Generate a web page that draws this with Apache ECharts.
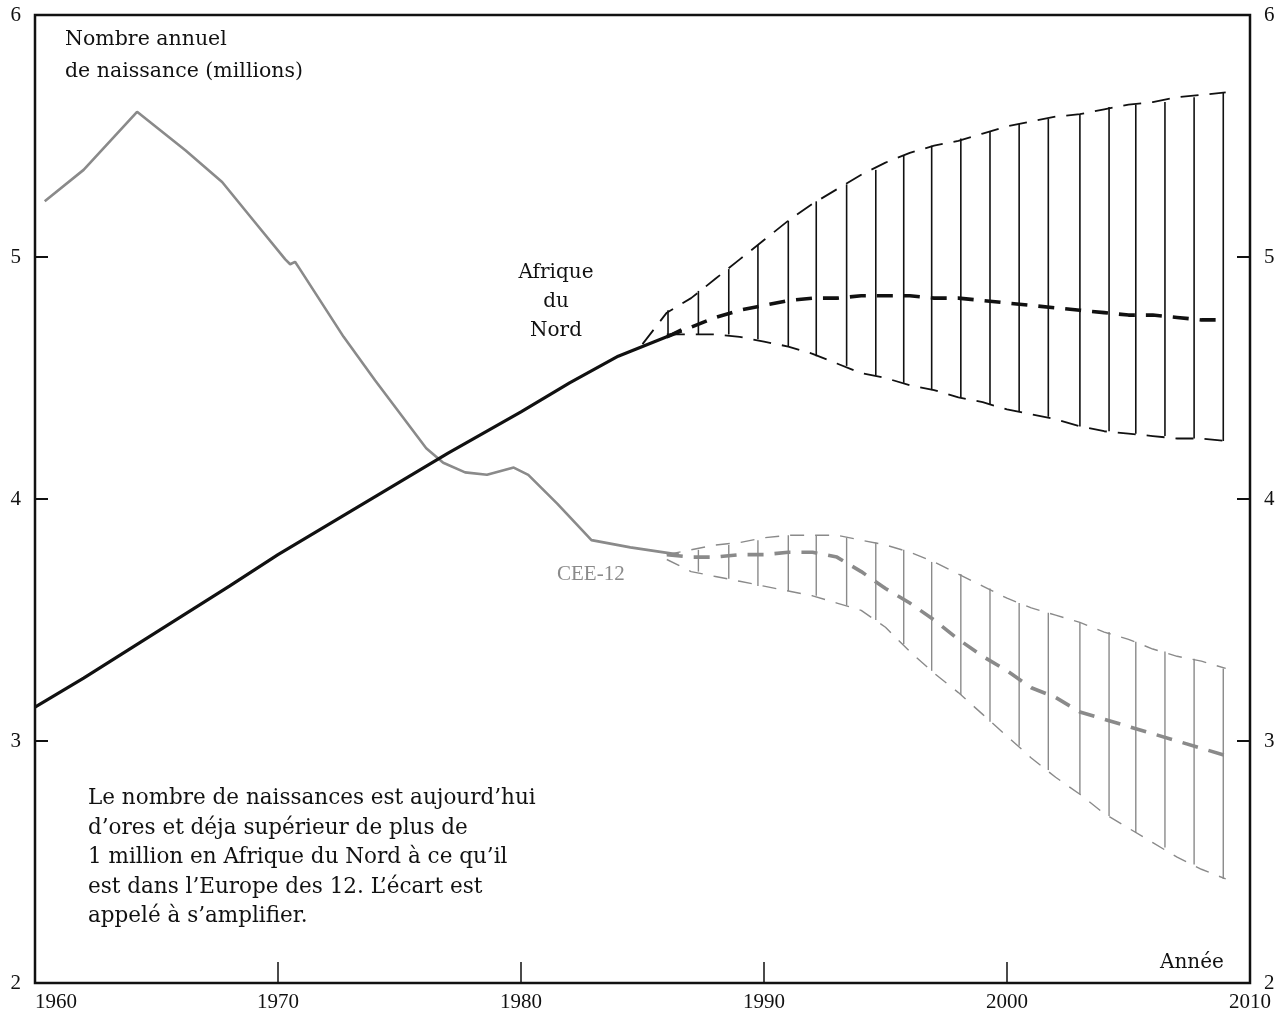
<!DOCTYPE html>
<html>
<head>
<meta charset="utf-8">
<script src="https://cdn.jsdelivr.net/npm/echarts@6/dist/echarts.min.js"></script>
<style>
html,body{margin:0;padding:0;background:#fff;}
#chart{width:1287px;height:1016px;}
</style>
</head>
<body>
<div id="chart"></div>
<script>
// ---- Data ----
const xTicks = [1960, 1970, 1980, 1990, 2000, 2010];
const yTicks = [2, 3, 4, 5, 6];

// Afrique du Nord, observed
const afnYears = [1960, 1962, 1965, 1968, 1970, 1973, 1975, 1977, 1980, 1982, 1984, 1986, 1986.6];
const afnObserved = [3.14, 3.26, 3.45, 3.64, 3.77, 3.95, 4.07, 4.19, 4.36, 4.48, 4.59, 4.67, 4.70];

// CEE-12, observed
const ceeYears = [1960.4, 1962, 1964.2, 1966.2, 1967.7, 1969, 1970.3, 1970.5, 1970.7, 1970.9, 1972.7, 1974, 1976.1, 1976.8, 1977.7, 1978.6, 1979.7, 1980.3, 1981.5, 1982.9, 1984.5, 1986.5];
const ceeObserved = [5.23, 5.36, 5.60, 5.44, 5.31, 5.15, 4.99, 4.97, 4.98, 4.95, 4.67, 4.49, 4.21, 4.15, 4.11, 4.10, 4.13, 4.10, 3.98, 3.83, 3.80, 3.77];

// Projections (yearly)
const projYears = [1985, 1986, 1987, 1988, 1989, 1990, 1991, 1992, 1993, 1994, 1995, 1996, 1997, 1998, 1999, 2000, 2001, 2002, 2003, 2004, 2005, 2006, 2007, 2008, 2009];
const afnHigh = [4.64, 4.77, 4.83, 4.91, 4.99, 5.07, 5.15, 5.22, 5.28, 5.34, 5.39, 5.43, 5.46, 5.48, 5.51, 5.54, 5.56, 5.58, 5.59, 5.61, 5.63, 5.64, 5.66, 5.67, 5.68];
const afnMid  = [null, 4.67, 4.71, 4.75, 4.78, 4.80, 4.82, 4.83, 4.83, 4.84, 4.84, 4.84, 4.83, 4.83, 4.82, 4.81, 4.80, 4.79, 4.78, 4.77, 4.76, 4.76, 4.75, 4.74, 4.74];
const afnLow  = [null, 4.68, 4.68, 4.68, 4.67, 4.65, 4.63, 4.60, 4.56, 4.52, 4.50, 4.47, 4.45, 4.42, 4.40, 4.37, 4.35, 4.33, 4.30, 4.28, 4.27, 4.26, 4.25, 4.25, 4.24];
const ceeHigh = [null, 3.77, 3.79, 3.81, 3.82, 3.84, 3.85, 3.85, 3.85, 3.83, 3.81, 3.78, 3.74, 3.69, 3.64, 3.59, 3.55, 3.52, 3.49, 3.45, 3.42, 3.38, 3.35, 3.33, 3.30];
const ceeMid  = [null, 3.77, 3.76, 3.76, 3.77, 3.77, 3.78, 3.78, 3.76, 3.70, 3.63, 3.57, 3.50, 3.42, 3.35, 3.29, 3.22, 3.18, 3.12, 3.09, 3.06, 3.03, 3.00, 2.97, 2.94];
const ceeLow  = [null, 3.75, 3.70, 3.68, 3.66, 3.64, 3.62, 3.60, 3.57, 3.54, 3.47, 3.37, 3.28, 3.20, 3.11, 3.02, 2.93, 2.85, 2.78, 2.70, 2.64, 2.58, 2.52, 2.47, 2.43];

// Hatch lines (vertical strokes between the bounds)
const hatchYears = [1986.05, 1987.3, 1988.55, 1989.75, 1991.0, 1992.15, 1993.4, 1994.6, 1995.75, 1996.9, 1998.1, 1999.3, 2000.5, 2001.7, 2003.0, 2004.2, 2005.3, 2006.5, 2007.7, 2008.9];
const afnHatchLow  = [4.68, 4.68, 4.68, 4.66, 4.63, 4.59, 4.55, 4.51, 4.48, 4.45, 4.42, 4.39, 4.36, 4.34, 4.30, 4.28, 4.27, 4.26, 4.25, 4.24];
const afnHatchHigh = [4.78, 4.86, 4.95, 5.05, 5.15, 5.23, 5.30, 5.36, 5.42, 5.46, 5.49, 5.52, 5.55, 5.57, 5.59, 5.62, 5.63, 5.64, 5.66, 5.68];
const ceeHatchLow  = [null, 3.70, 3.67, 3.64, 3.62, 3.60, 3.56, 3.50, 3.40, 3.29, 3.19, 3.08, 2.98, 2.88, 2.78, 2.69, 2.62, 2.56, 2.49, 2.43];
const ceeHatchHigh = [null, 3.79, 3.81, 3.83, 3.85, 3.85, 3.84, 3.82, 3.79, 3.74, 3.69, 3.63, 3.57, 3.53, 3.49, 3.45, 3.41, 3.37, 3.34, 3.30];

const yTitle = ['Nombre annuel', 'de naissance (millions)'];
const afnLabel = ['Afrique', 'du', 'Nord'];
const ceeLabel = 'CEE-12';
const xName = 'Année';
const note = [
  'Le nombre de naissances est aujourd’hui',
  'd’ores et déja supérieur de plus de',
  '1 million en Afrique du Nord à ce qu’il',
  'est dans l’Europe des 12. L’écart est',
  'appelé à s’amplifier.'
];

// ---- Build ----
const SERIF = '"Liberation Serif", "DejaVu Serif", serif';
const WIDE = '"DejaVu Serif", "Liberation Serif", serif';
const pairs = (xs, ys) => xs.map((x, i) => [x, ys[i]]).filter(p => p[1] !== null && p[1] !== undefined);
const hatch = (lo, hi) => hatchYears.map((x, i) => [x, lo[i], hi[i]]).filter(p => p[1] !== null);

function hatchRender(color, width) {
  return function (params, api) {
    const p1 = api.coord([api.value(0), api.value(1)]);
    const p2 = api.coord([api.value(0), api.value(2)]);
    return {
      type: 'line',
      shape: { x1: p1[0], y1: p1[1], x2: p2[0], y2: p2[1] },
      style: { stroke: color, lineWidth: width }
    };
  };
}

const BLACK = '#111';
const GRAY = '#8a8a8a';

function lineSeries(data, color, width, dash, z) {
  return {
    type: 'line', data: data, showSymbol: false, symbol: 'none', silent: true,
    lineStyle: { color: color, width: width, type: dash || 'solid' },
    z: z || 3, animation: false, connectNulls: false
  };
}

const axisLabelStyle = { fontFamily: SERIF, fontSize: 21, color: BLACK, formatter: v => String(v) };

const chart = echarts.init(document.getElementById('chart'), null, { renderer: 'canvas' });
chart.setOption({
  animation: false,
  backgroundColor: '#fff',
  grid: { left: 35, right: 37, top: 15, bottom: 33, show: true, borderColor: BLACK, borderWidth: 2.5 },
  xAxis: {
    type: 'value', min: xTicks[0], max: xTicks[xTicks.length - 1], interval: 10,
    axisLine: { show: true, lineStyle: { color: BLACK, width: 2 } },
    axisTick: { show: true, inside: true, length: 21, lineStyle: { color: BLACK, width: 1.5 } },
    splitLine: { show: false },
    axisLabel: Object.assign({ margin: 9, alignMinLabel: 'left' }, axisLabelStyle)
  },
  yAxis: [
    {
      type: 'value', min: yTicks[0], max: yTicks[yTicks.length - 1], interval: 1, position: 'left',
      axisLine: { show: true, lineStyle: { color: BLACK, width: 2 } },
      axisTick: { show: true, inside: true, length: 13, lineStyle: { color: BLACK, width: 2 } },
      splitLine: { show: false },
      axisLabel: Object.assign({ margin: 14 }, axisLabelStyle)
    },
    {
      type: 'value', min: yTicks[0], max: yTicks[yTicks.length - 1], interval: 1, position: 'right',
      axisLine: { show: true, lineStyle: { color: BLACK, width: 2 } },
      axisTick: { show: true, inside: true, length: 13, lineStyle: { color: BLACK, width: 2 } },
      splitLine: { show: false },
      axisLabel: Object.assign({ margin: 14 }, axisLabelStyle)
    }
  ],
  series: [
    // hatch
    { type: 'custom', data: hatch(afnHatchLow, afnHatchHigh), renderItem: hatchRender(BLACK, 1.6), encode: { x: 0, y: [1, 2] }, silent: true, z: 2 },
    { type: 'custom', data: hatch(ceeHatchLow, ceeHatchHigh), renderItem: hatchRender(GRAY, 1.4), encode: { x: 0, y: [1, 2] }, silent: true, z: 2 },
    // observed
    lineSeries(pairs(ceeYears, ceeObserved), GRAY, 2.6, 'solid', 4),
    lineSeries(pairs(afnYears, afnObserved), BLACK, 3.2, 'solid', 5),
    // projections AFN
    lineSeries(pairs(projYears, afnHigh), BLACK, 1.8, [18, 11], 3),
    lineSeries(pairs(projYears, afnLow), BLACK, 1.8, [18, 11], 3),
    lineSeries(pairs(projYears, afnMid), BLACK, 3.6, [16, 11], 4),
    // projections CEE
    lineSeries(pairs(projYears, ceeHigh), GRAY, 1.4, [14, 11], 3),
    lineSeries(pairs(projYears, ceeLow), GRAY, 1.4, [14, 11], 3),
    lineSeries(pairs(projYears, ceeMid), GRAY, 3.6, [16, 11], 4)
  ],
  graphic: [
    { type: 'text', left: 65, top: 24, style: { text: yTitle.join('\n'), font: '20.5px ' + WIDE, fill: BLACK, lineHeight: 32 } },
    { type: 'text', x: 556, y: 258, style: { text: afnLabel.join('\n'), font: '20px ' + WIDE, fill: BLACK, lineHeight: 29, textAlign: 'center' } },
    { type: 'text', left: 557, top: 564, style: { text: ceeLabel, font: '21px ' + SERIF, fill: GRAY } },
    { type: 'text', left: 88, top: 784, style: { text: note.join('\n'), font: '21.5px ' + WIDE, fill: BLACK, lineHeight: 29.5 } },
    { type: 'text', left: 1160, top: 953, style: { text: xName, font: '20px ' + WIDE, fill: BLACK } }
  ]
});
</script>
</body>
</html>
